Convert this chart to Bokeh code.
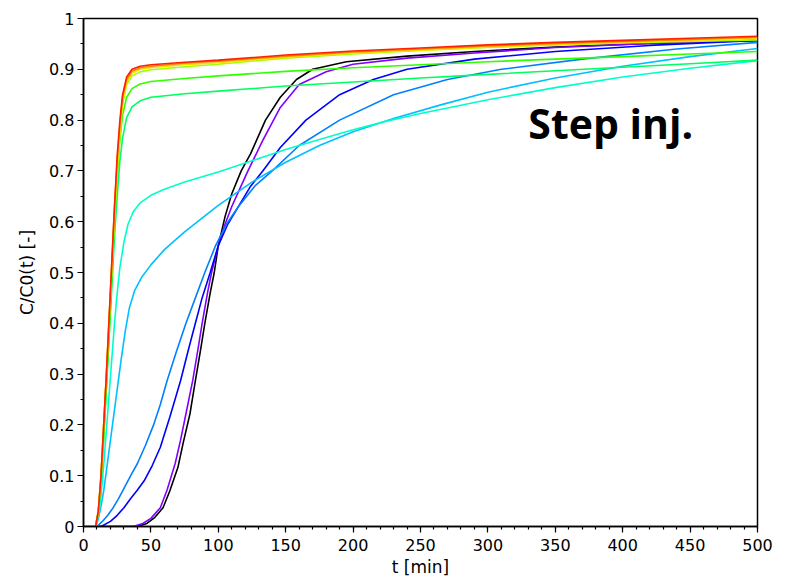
from bokeh.plotting import figure
from bokeh.models import FixedTicker, Label
from bokeh.embed import file_html
from bokeh.resources import INLINE

# ---- breakthrough curves C/C0(t) for a step injection ----
# each series: time [min] and normalised concentration [-]

t_red = [0, 9, 11, 13, 15, 17, 19, 21, 23, 25, 27, 29, 32, 36, 42, 50, 75, 100, 150, 200, 250, 300, 350, 400, 450, 500]
c_red = [0, 0, 0.03, 0.1, 0.2, 0.3, 0.41, 0.52, 0.63, 0.73, 0.8, 0.85, 0.885, 0.9, 0.906, 0.909, 0.914, 0.918, 0.928, 0.936, 0.942, 0.948, 0.953, 0.957, 0.961, 0.965]

t_orange = [0, 9, 11, 13, 15, 17, 19, 21, 23, 25, 27, 29, 32, 36, 42, 50, 75, 100, 150, 200, 250, 300, 350, 400, 450, 500]
c_orange = [0, 0, 0.03, 0.1, 0.2, 0.3, 0.41, 0.52, 0.63, 0.72, 0.79, 0.845, 0.88, 0.896, 0.903, 0.906, 0.912, 0.916, 0.926, 0.934, 0.94, 0.946, 0.951, 0.955, 0.959, 0.963]

t_yellow = [0, 9, 11, 13, 15, 17, 19, 21, 23, 25, 27, 29, 32, 36, 42, 50, 75, 100, 150, 200, 250, 300, 350, 400, 450, 500]
c_yellow = [0, 0, 0.03, 0.1, 0.2, 0.3, 0.41, 0.51, 0.62, 0.71, 0.78, 0.84, 0.875, 0.892, 0.9, 0.903, 0.909, 0.913, 0.924, 0.932, 0.938, 0.944, 0.949, 0.953, 0.957, 0.961]

t_lime = [0, 9, 11, 13, 15, 17, 19, 21, 23, 25, 27, 29, 32, 36, 42, 50, 75, 100, 150, 200, 250, 300, 350, 400, 450, 500]
c_lime = [0, 0, 0.03, 0.1, 0.2, 0.3, 0.4, 0.51, 0.61, 0.7, 0.77, 0.83, 0.87, 0.887, 0.895, 0.899, 0.905, 0.91, 0.922, 0.93, 0.937, 0.943, 0.948, 0.952, 0.955, 0.958]

t_green = [0, 9, 11, 13, 15, 17, 19, 21, 23, 25, 27, 29, 32, 36, 42, 50, 75, 100, 150, 200, 250, 300, 350, 400, 450, 500]
c_green = [0, 0, 0.03, 0.09, 0.18, 0.28, 0.38, 0.49, 0.6, 0.69, 0.76, 0.81, 0.845, 0.862, 0.871, 0.876, 0.882, 0.887, 0.896, 0.903, 0.909, 0.915, 0.92, 0.925, 0.93, 0.935]

t_spring = [0, 9, 11, 13, 15, 17, 19, 21, 23, 25, 27, 29, 32, 36, 42, 50, 75, 100, 150, 200, 250, 300, 350, 400, 450, 500]
c_spring = [0, 0, 0.03, 0.09, 0.17, 0.27, 0.37, 0.47, 0.57, 0.65, 0.72, 0.765, 0.805, 0.826, 0.838, 0.845, 0.852, 0.857, 0.867, 0.875, 0.883, 0.89, 0.897, 0.904, 0.911, 0.918]

t_turq = [0, 9, 11, 13, 15, 17, 19, 21, 23, 25, 27, 30, 33, 37, 42, 50, 60, 75, 100, 125, 150, 175, 200, 225, 250, 300, 350, 400, 450, 500]
c_turq = [0, 0, 0.02, 0.06, 0.12, 0.19, 0.26, 0.33, 0.4, 0.46, 0.51, 0.56, 0.595, 0.62, 0.637, 0.652, 0.664, 0.678, 0.698, 0.72, 0.742, 0.762, 0.781, 0.798, 0.813, 0.84, 0.864, 0.885, 0.902, 0.917]

t_sky = [0, 9, 11, 13, 15, 17, 19, 21, 23, 25, 28, 31, 34, 38, 43, 50, 60, 75, 100, 125, 150, 175, 200, 230, 265, 300, 350, 400, 450, 500]
c_sky = [0, 0, 0.015, 0.04, 0.07, 0.11, 0.15, 0.19, 0.23, 0.27, 0.33, 0.385, 0.43, 0.465, 0.49, 0.515, 0.545, 0.58, 0.632, 0.678, 0.717, 0.75, 0.777, 0.803, 0.83, 0.855, 0.883, 0.906, 0.925, 0.941]

t_azure = [0, 10, 14, 18, 22, 26, 31, 36, 40, 46, 52, 57, 62, 69, 76, 83, 90, 98, 106, 115, 127, 140, 160, 190, 230, 270, 310, 370, 440, 500]
c_azure = [0, 0, 0.01, 0.022, 0.037, 0.055, 0.08, 0.105, 0.124, 0.16, 0.2, 0.24, 0.287, 0.345, 0.4, 0.45, 0.5, 0.553, 0.595, 0.63, 0.67, 0.7, 0.75, 0.8, 0.85, 0.88, 0.9, 0.92, 0.94, 0.953]

t_blue = [0, 13, 20, 25, 30, 35, 40, 45, 51, 57, 64, 72, 78, 83, 88, 94, 100, 107, 115, 124, 133, 146, 165, 190, 215, 240, 290, 350, 420, 500]
c_blue = [0, 0, 0.01, 0.022, 0.037, 0.055, 0.072, 0.09, 0.12, 0.156, 0.215, 0.287, 0.35, 0.4, 0.45, 0.5, 0.553, 0.595, 0.63, 0.67, 0.7, 0.746, 0.8, 0.85, 0.88, 0.9, 0.92, 0.935, 0.947, 0.957]

t_violet = [0, 37, 44, 50, 57, 62, 68, 72, 76, 81, 85, 88, 92, 95, 100, 105, 110, 116, 122, 133, 146, 160, 180, 200, 240, 290, 350, 420, 500]
c_violet = [0, 0, 0.006, 0.016, 0.037, 0.072, 0.124, 0.17, 0.222, 0.287, 0.35, 0.4, 0.46, 0.5, 0.553, 0.595, 0.63, 0.665, 0.7, 0.76, 0.825, 0.87, 0.895, 0.91, 0.922, 0.932, 0.943, 0.951, 0.957]

t_black = [0, 40, 47, 53, 59, 64, 70, 74, 79, 83, 87, 90, 94, 97, 100, 105, 110, 117, 124, 135, 146, 158, 170, 195, 240, 290, 350, 420, 500]
c_black = [0, 0, 0.006, 0.018, 0.037, 0.07, 0.116, 0.165, 0.222, 0.287, 0.35, 0.4, 0.46, 0.5, 0.553, 0.61, 0.655, 0.7, 0.734, 0.8, 0.845, 0.88, 0.9, 0.915, 0.926, 0.935, 0.944, 0.951, 0.957]

x_ticks = [0, 50, 100, 150, 200, 250, 300, 350, 400, 450, 500]
x_tick_labels = ["0", "50", "100", "150", "200", "250", "300", "350", "400", "450", "500"]
y_ticks = [0, 0.1, 0.2, 0.3, 0.4, 0.5, 0.6, 0.7, 0.8, 0.9, 1.0]
y_tick_labels = ["0", "0.1", "0.2", "0.3", "0.4", "0.5", "0.6", "0.7", "0.8", "0.9", "1"]

# drawing order: slow curves first, fast ones last (red on top)
series = [
    (t_black, c_black, "#000000"),
    (t_violet, c_violet, "#8000ff"),
    (t_blue, c_blue, "#0000ff"),
    (t_azure, c_azure, "#0080ff"),
    (t_sky, c_sky, "#00c0ff"),
    (t_turq, c_turq, "#00ffc8"),
    (t_spring, c_spring, "#00ff60"),
    (t_green, c_green, "#30ff00"),
    (t_lime, c_lime, "#a0ff00"),
    (t_yellow, c_yellow, "#ffe000"),
    (t_orange, c_orange, "#ff8000"),
    (t_red, c_red, "#ff2000"),
]

FONT = "DejaVu Sans"

p = figure(width=795, height=584, output_backend="svg", toolbar_location=None,
           x_range=(0, 500), y_range=(0, 1),
           min_border_left=83, min_border_right=38,
           min_border_top=18, min_border_bottom=58)

p.background_fill_color = "white"
p.border_fill_color = "white"
p.outline_line_color = "black"
p.outline_line_width = 1.5
p.xgrid.visible = False
p.ygrid.visible = False

for t, c, col in series:
    p.line(t, c, line_color=col, line_width=1.6)

# axes
p.xaxis.ticker = FixedTicker(ticks=x_ticks, minor_ticks=list(range(0, 501, 10)))
p.xaxis.major_label_overrides = {v: s for v, s in zip(x_ticks, x_tick_labels)}
p.yaxis.ticker = FixedTicker(ticks=y_ticks, minor_ticks=[i * 0.05 for i in range(21)])
p.yaxis.major_label_overrides = {v: s for v, s in zip(y_ticks, y_tick_labels)}

p.xaxis.axis_label = "t [min]"
p.yaxis.axis_label = "C/C0(t) [-]"

for ax in (p.xaxis[0], p.yaxis[0]):
    ax.axis_line_color = "black"
    ax.axis_line_width = 1.5
    ax.major_tick_line_color = "black"
    ax.major_tick_line_width = 1.2
    ax.minor_tick_line_color = "black"
    ax.minor_tick_line_width = 1.2
    ax.major_tick_in = 0
    ax.major_tick_out = 6
    ax.minor_tick_in = 0
    ax.minor_tick_out = 3
    ax.major_label_text_font = FONT
    ax.major_label_text_font_size = "16px"
    ax.major_label_text_color = "black"
    ax.axis_label_text_font = FONT
    ax.axis_label_text_font_size = "17px"
    ax.axis_label_text_font_style = "normal"
    ax.axis_label_text_color = "black"

p.xaxis.major_label_standoff = 6
p.xaxis.axis_label_standoff = 3
p.yaxis.major_label_standoff = 3
p.yaxis.axis_label_standoff = 9

p.add_layout(Label(x=330, y=0.794, text="Step inj.", text_font="Open Sans",
                   text_font_style="bold", text_font_size="41px",
                   text_color="black", text_baseline="alphabetic"))

open("out.html", "w").write(file_html(p, INLINE))
